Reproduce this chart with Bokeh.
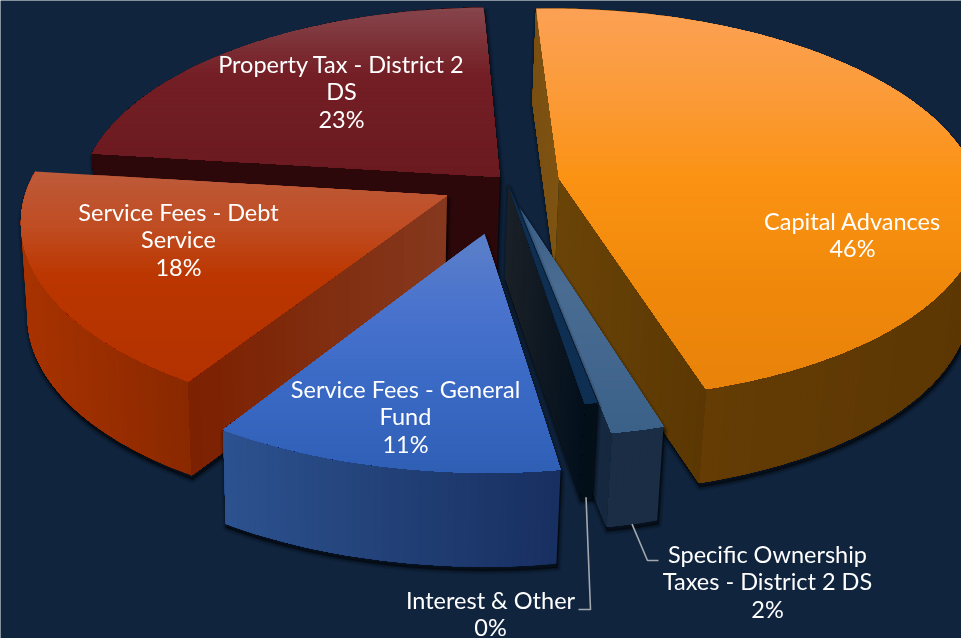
import numpy as np
from bokeh.plotting import figure
from bokeh.models import Range1d
from bokeh.core.properties import value
from bokeh.embed import file_html
from bokeh.resources import INLINE

# ---- chart data ----
categories = ["Capital Advances", "Specific Ownership Taxes - District 2 DS", "Interest & Other",
              "Service Fees - General Fund", "Service Fees - Debt Service", "Property Tax - District 2 DS"]
shares = [46.01, 1.76, 0.42, 11.42, 17.89, 22.50]
percent_labels = ["46%", "2%", "0%", "11%", "18%", "23%"]
explosions = [0.12, 0.13, 0.01, 0.265, 0.165, 0.035]

# ---- styling / layout ----
BG = "#10243e"
START_DEG = -0.2
DEPTH = 94
nudge_u = [0, -0.009, -0.006, -0.006, 0, 0]
label_lines = [["Capital Advances"], ["Specific Ownership", "Taxes - District 2 DS"], ["Interest & Other"],
               ["Service Fees - General", "Fund"], ["Service Fees - Debt", "Service"],
               ["Property Tax - District 2", "DS"]]
label_xy = [(852, 220), (767, 553), (490, 599), (405, 388), (178, 211), (341, 63)]
LINE_H = 27.5
FONT = "Lato"
FONT_SIZE = "23.5px"

top_stops = [
    [(0, "#fca155"), (.25, "#fb9a35"), (.45, "#fb9213"), (.75, "#ef880a"), (1, "#e8820a")],
    [(0, "#3a5d85"), (.35, "#4a6c92"), (1, "#3b6189")],
    [(0, "#0f2f52"), (1, "#0f2f52")],
    [(0, "#5b80c8"), (.3, "#4a73cd"), (.6, "#3b6bc6"), (1, "#2f5fb5")],
    [(0, "#bd5a3a"), (.25, "#c04e24"), (.5, "#bb3600"), (1, "#b33200")],
    [(0, "#86464c"), (.2, "#7d3238"), (.4, "#731e24"), (1, "#6a1a20")],
]
rim_stops = [
    ("#5c3703", "#693f05"), ("#1a2d44", "#1a2d44"), ("#031019", "#031019"),
    ("#182f60", "#2c528f"), ("#8a2800", "#a83300"), ("#2d080b", "#2d080b"),
]
# cut walls: (at start angle?, colour near apex, colour at rim)
cut_walls = [
    [(True, "#7f5412", "#7a4f12"), (False, "#6a4407", "#5b3703")],
    [(False, "#0f3057", "#16283d")],
    [(False, "#1a2027", "#03101c")],
    [],
    [(True, "#85391e", "#7c2000")],
    [(True, "#2d080b", "#2d080b")],
]
draw_order = [5, 0, 1, 2, 4, 3]

# perspective of the pie plane
VX, VY = 370.0, 1300.0
AU, AV, GU = 0.2825, 8.79e-5, 2.5e-6
M0, N0 = 0.094, 6.75e-4


def project(u, v):
    u, v = np.asarray(u, float), np.asarray(v, float)
    w = N0 + AV * v + GU * u
    return VX + (M0 + AU * u) / w, -VY + 1 / w


def lower(x, y):
    return np.asarray(x) + (350 - np.asarray(x)) * 0.02, np.asarray(y) + DEPTH


def rgb(h):
    return np.array([int(h[i:i + 2], 16) for i in (1, 3, 5)], float)


def mix(a, b, t):
    c = rgb(a) * (1 - t) + rgb(b) * t
    return "#%02x%02x%02x" % tuple(int(round(k)) for k in c)


def ramp(stops, t):
    for (t0, c0), (t1, c1) in zip(stops, stops[1:]):
        if t <= t1:
            return mix(c0, c1, (t - t0) / max(t1 - t0, 1e-6))
    return stops[-1][1]


def clip_below(pts, y0):
    out = []
    n = len(pts)
    for i in range(n):
        a, b = pts[i], pts[(i + 1) % n]
        ina, inb = a[1] >= y0, b[1] >= y0
        if ina:
            out.append(a)
        if ina != inb:
            t = (y0 - a[1]) / (b[1] - a[1])
            out.append((a[0] + t * (b[0] - a[0]), y0))
    return out


def hull(pts):
    pts = sorted(set(pts))
    def half(seq):
        h = []
        for q in seq:
            while len(h) >= 2 and (h[-1][0] - h[-2][0]) * (q[1] - h[-2][1]) - (h[-1][1] - h[-2][1]) * (q[0] - h[-2][0]) <= 0:
                h.pop()
            h.append(q)
        return h[:-1]
    return half(pts) + half(pts[::-1])


p = figure(width=961, height=638, output_backend="svg", toolbar_location=None,
           x_range=Range1d(0, 961), y_range=Range1d(638, 0),
           min_border=0, background_fill_color=BG, border_fill_color=BG,
           outline_line_color=None, styles={"position": "fixed", "left": "0", "top": "0"})
p.xaxis.visible = False
p.yaxis.visible = False
p.grid.visible = False

total = sum(shares)
bounds = START_DEG + np.concatenate([[0], np.cumsum(shares)]) * 360 / total


def poly(xs, ys, col):
    p.patch(list(xs), list(ys), fill_color=col, line_color=None)


for i in draw_order:
    t0, t1 = np.radians(bounds[i]), np.radians(bounds[i + 1])
    mid = (t0 + t1) / 2
    cu, cv = explosions[i] * np.sin(mid) + nudge_u[i], explosions[i] * np.cos(mid)
    th = np.linspace(t0, t1, max(8, int((bounds[i + 1] - bounds[i]) * 1.2)))
    rx, ry = project(cu + np.sin(th), cv + np.cos(th))
    ax, ay = project(cu, cv)
    bx, by = lower(rx, ry)
    abx, aby = lower(ax, ay)

    # soft shadow
    sil = hull([(float(a), float(b)) for a, b in zip(rx, ry)] + [(float(a), float(b)) for a, b in zip(bx, by)] +
               [(float(ax), float(ay)), (float(abx), float(aby))])
    sx = [q[0] + 1 for q in sil]
    sy = [q[1] + 4 for q in sil]
    for lw, al in [(8, .10), (5, .15), (2, .25)]:
        p.patch(sx, sy, fill_color="black", fill_alpha=al, line_color="black", line_alpha=al,
                line_width=lw, line_join="round")

    # outer wall: each band also covers everything after it, so no seams remain
    c_a, c_b = rim_stops[i]
    xmin, xmax = rx.min(), rx.max()
    for k in range(len(th) - 1):
        side = 1 - (0.5 * (rx[k] + rx[k + 1]) - xmin) / max(xmax - xmin, 1)
        poly(list(rx[k:]) + list(bx[k:][::-1]), list(ry[k:]) + list(by[k:][::-1]), mix(c_a, c_b, side))

    # cut walls
    for at_start, c_apex, c_rim in cut_walls[i]:
        j = 0 if at_start else -1
        n = 24
        lrx, lry = lower(rx[j], ry[j])
        for k in range(n):
            f0 = k / n
            x0, y0 = ax + (rx[j] - ax) * f0, ay + (ry[j] - ay) * f0
            lx0, ly0 = lower(x0, y0)
            poly([x0, rx[j], lrx, lx0], [y0, ry[j], lry, ly0], mix(c_apex, c_rim, (k + .5) / n))

    # top face: overlapping horizontal bands make the vertical gradient
    pts = [(float(ax), float(ay))] + [(float(a), float(b)) for a, b in zip(rx, ry)]
    ylo, yhi = min(q[1] for q in pts), max(q[1] for q in pts)
    nb = max(2, int((yhi - ylo) / 4))
    for k in range(nb):
        band = clip_below(pts, ylo + (yhi - ylo) * k / nb)
        if len(band) >= 3:
            poly([q[0] for q in band], [q[1] for q in band], ramp(top_stops[i], (k + .5) / nb))

# leader lines
for i, elbow in [(1, [(647, 560), (658, 560)]), (2, [(590, 609), (578, 609)])]:
    mid = np.radians((bounds[i] + bounds[i + 1]) / 2)
    cu, cv = explosions[i] * np.sin(mid) + nudge_u[i], explosions[i] * np.cos(mid)
    rx, ry = project(cu + np.sin(mid), cv + np.cos(mid))
    bx, by = lower(rx, ry)
    p.line([float(bx)] + [q[0] for q in elbow], [float(by)] + [q[1] for q in elbow],
           line_color="#a3a8af", line_width=1.6)

# labels
for lines, pct, (lx, ly) in zip(label_lines, percent_labels, label_xy):
    for k, s in enumerate(lines + [pct]):
        p.text([lx], [ly + k * LINE_H], text=[s], text_color="#ffffff", text_font=value(FONT),
               text_font_size=value(FONT_SIZE), text_align="center", text_baseline="middle")

open("out.html", "w").write(file_html(p, INLINE))
